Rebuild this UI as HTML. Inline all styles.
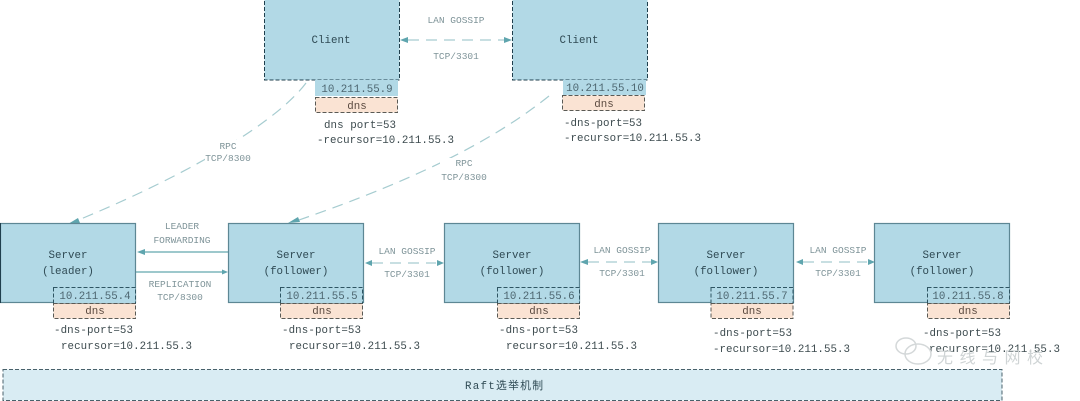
<!DOCTYPE html>
<html><head><meta charset="utf-8"><style>
html,body{margin:0;padding:0;background:#fff;width:1080px;height:401px;overflow:hidden}
svg{display:block;filter:blur(.35px)}
text{font-family:"Liberation Mono","Noto Sans CJK SC",monospace;fill:#44585f;text-anchor:middle}
.n{font-size:10.8px;fill:#2f4a54}
.t{font-size:10.8px;fill:#3c4a4e;text-anchor:start}
.l{font-size:9.5px;fill:#7f9499}
.ip{font-size:10.8px;fill:#4d6670}
.d{font-size:10.8px;fill:#5a4a40}
.box{fill:#b2d9e6;stroke:#5d8794;stroke-width:1.2}
.cl{fill:#b2d9e6;stroke:#1f3f4d;stroke-width:1;stroke-dasharray:4 2}
.ipb{fill:#b2d9e6;stroke:#2e5563;stroke-width:1;stroke-dasharray:4 2}
.dns{fill:#fae3d3;stroke:#5a5a55;stroke-width:1;stroke-dasharray:4 2}
.c{fill:none;stroke:#a6ccd0;stroke-width:1.2;stroke-dasharray:11 7}
.s{fill:none;stroke:#7db5bb;stroke-width:1.4}
.a{fill:#5fa5ae}
</style></head><body>
<svg width="1080" height="401" viewBox="0 0 1080 401" xmlns="http://www.w3.org/2000/svg">
<rect width="1080" height="401" fill="#fff"/>

<!-- connectors -->
<path class="c" d="M306 83 C280 118 200 170 76 221"/>
<polygon class="a" points="68,224 78,218 80,223"/>
<path class="c" d="M549 96 C500 135 430 175 296 221"/>
<polygon class="a" points="288,223 298,217 300,222"/>
<rect x="205" y="140" width="46" height="25" fill="#fff"/>
<rect x="440" y="158" width="48" height="25" fill="#fff"/>
<path class="c" d="M408 40 H504"/>
<polygon class="a" points="400,40 408,37 408,43"/><polygon class="a" points="512,40 504,37 504,43"/>
<path class="s" d="M144 252 H228"/><polygon class="a" points="137,252 145,249 145,255"/>
<path class="s" d="M136 272 H222"/><polygon class="a" points="228,272 222,269.5 222,274.5"/>
<path class="c" d="M372 263 H436"/>
<polygon class="a" points="365,263 372,260 372,266"/><polygon class="a" points="444,263 437,260 437,266"/>
<path class="c" d="M588 262 H651"/>
<polygon class="a" points="580,262 588,259 588,265"/><polygon class="a" points="658,262 651,259 651,265"/>
<path class="c" d="M803 262 H867"/>
<polygon class="a" points="796,262 803,259 803,265"/><polygon class="a" points="875,262 868,259 868,265"/>

<!-- clients -->
<rect class="cl" x="264.5" y="-1" width="135" height="81"/>
<rect class="cl" x="512.5" y="-1" width="135" height="81"/>
<text class="n" x="331" y="43">Client</text>
<text class="n" x="579" y="43">Client</text>
<rect x="315" y="80" width="83" height="16" fill="#b2d9e6"/>
<rect class="dns" x="315.5" y="97.5" width="82" height="15"/>
<text class="ip" x="357" y="92">10.211.55.9</text>
<text class="d" x="357" y="109">dns</text>
<text class="t" x="324" y="128" textLength="72">dns port=53</text>
<text class="t" x="317" y="143" textLength="137">-recursor=10.211.55.3</text>
<rect x="563" y="80" width="83" height="15" fill="#b2d9e6"/>
<rect class="dns" x="562.5" y="95.5" width="82" height="15"/>
<text class="ip" x="605" y="91">10.211.55.10</text>
<text class="d" x="604" y="107">dns</text>
<text class="t" x="564" y="126" textLength="78">-dns-port=53</text>
<text class="t" x="564" y="141" textLength="137">-recursor=10.211.55.3</text>

<!-- servers -->
<rect class="box" x="0.500" y="223.500" width="135" height="79"/>
<line x1="0.500" y1="223" x2="0.500" y2="303" stroke="#1f3f4d" stroke-width="1"/>
<rect class="box" x="228.500" y="223.500" width="135" height="79"/>
<rect class="box" x="444.500" y="223.500" width="135" height="79"/>
<rect class="box" x="658.500" y="223.500" width="135" height="79"/>
<rect class="box" x="874.500" y="223.500" width="135" height="79"/>
<text class="n" x="68" y="258">Server</text><text class="n" x="68" y="274">(leader)</text>
<text class="n" x="296" y="258">Server</text><text class="n" x="296" y="274">(follower)</text>
<text class="n" x="512" y="258">Server</text><text class="n" x="512" y="274">(follower)</text>
<text class="n" x="726" y="258">Server</text><text class="n" x="726" y="274">(follower)</text>
<text class="n" x="942" y="258">Server</text><text class="n" x="942" y="274">(follower)</text>

<!-- ip/dns -->
<g>
<rect class="ipb" x="53.500" y="287.500" width="82" height="16"/><rect class="dns" x="53.500" y="303.500" width="82" height="15"/>
<text class="ip" x="95" y="299">10.211.55.4</text><text class="d" x="95" y="314">dns</text>
<rect class="ipb" x="280.500" y="287.500" width="82" height="16"/><rect class="dns" x="280.500" y="303.500" width="82" height="15"/>
<text class="ip" x="322" y="299">10.211.55.5</text><text class="d" x="322" y="314">dns</text>
<rect class="ipb" x="497.500" y="287.500" width="82" height="16"/><rect class="dns" x="497.500" y="303.500" width="82" height="15"/>
<text class="ip" x="539" y="299">10.211.55.6</text><text class="d" x="539" y="314">dns</text>
<rect class="ipb" x="711" y="287.500" width="82" height="16"/><rect class="dns" x="711" y="303.500" width="82" height="15"/>
<text class="ip" x="752" y="299">10.211.55.7</text><text class="d" x="752" y="314">dns</text>
<rect class="ipb" x="927.500" y="287.500" width="82" height="16"/><rect class="dns" x="927.500" y="303.500" width="82" height="15"/>
<text class="ip" x="968" y="299">10.211.55.8</text><text class="d" x="968" y="314">dns</text>
</g>

<!-- flags -->
<text class="t" x="54" y="333" textLength="79">-dns-port=53</text>
<text class="t" x="61" y="349" textLength="131">recursor=10.211.55.3</text>
<text class="t" x="282" y="333" textLength="79">-dns-port=53</text>
<text class="t" x="289" y="349" textLength="131">recursor=10.211.55.3</text>
<text class="t" x="499" y="333" textLength="79">-dns-port=53</text>
<text class="t" x="506" y="349" textLength="131">recursor=10.211.55.3</text>
<text class="t" x="713" y="336" textLength="79">-dns-port=53</text>
<text class="t" x="713" y="352" textLength="137">-recursor=10.211.55.3</text>
<text class="t" x="923" y="336" textLength="78">-dns-port=53</text>
<text class="t" x="929" y="352" textLength="131">recursor=10.211.55.3</text>

<!-- link labels -->
<text class="l" x="456" y="23">LAN GOSSIP</text>
<text class="l" x="456" y="59">TCP/3301</text>
<text class="l" x="228" y="149">RPC</text>
<text class="l" x="228" y="161">TCP/8300</text>
<text class="l" x="464" y="166">RPC</text>
<text class="l" x="464" y="180">TCP/8300</text>
<text class="l" x="182" y="229">LEADER</text>
<text class="l" x="182" y="243">FORWARDING</text>
<text class="l" x="180" y="287">REPLICATION</text>
<text class="l" x="180" y="300">TCP/8300</text>
<text class="l" x="407" y="254">LAN GOSSIP</text>
<text class="l" x="407" y="277">TCP/3301</text>
<text class="l" x="622" y="253">LAN GOSSIP</text>
<text class="l" x="622" y="276">TCP/3301</text>
<text class="l" x="838" y="253">LAN GOSSIP</text>
<text class="l" x="838" y="276">TCP/3301</text>

<!-- raft -->
<rect x="3" y="369.500" width="999" height="31" fill="#d9ecf3" stroke="#49616b" stroke-width="1" stroke-dasharray="4 2"/>
<text class="n" x="504" y="389" textLength="78">Raft选举机制</text>

<!-- watermark -->
<g fill="none" stroke="#d4d8d9" stroke-width="1.500">
<ellipse cx="906" cy="346" rx="10" ry="8"/>
<ellipse cx="918" cy="354" rx="13" ry="10"/>
</g>
<text x="990" y="363" textLength="106" style="font-size:16px;fill:#cfd4d5;font-family:'Noto Sans CJK SC',sans-serif">无线与网校</text>
</svg>
</body></html>
